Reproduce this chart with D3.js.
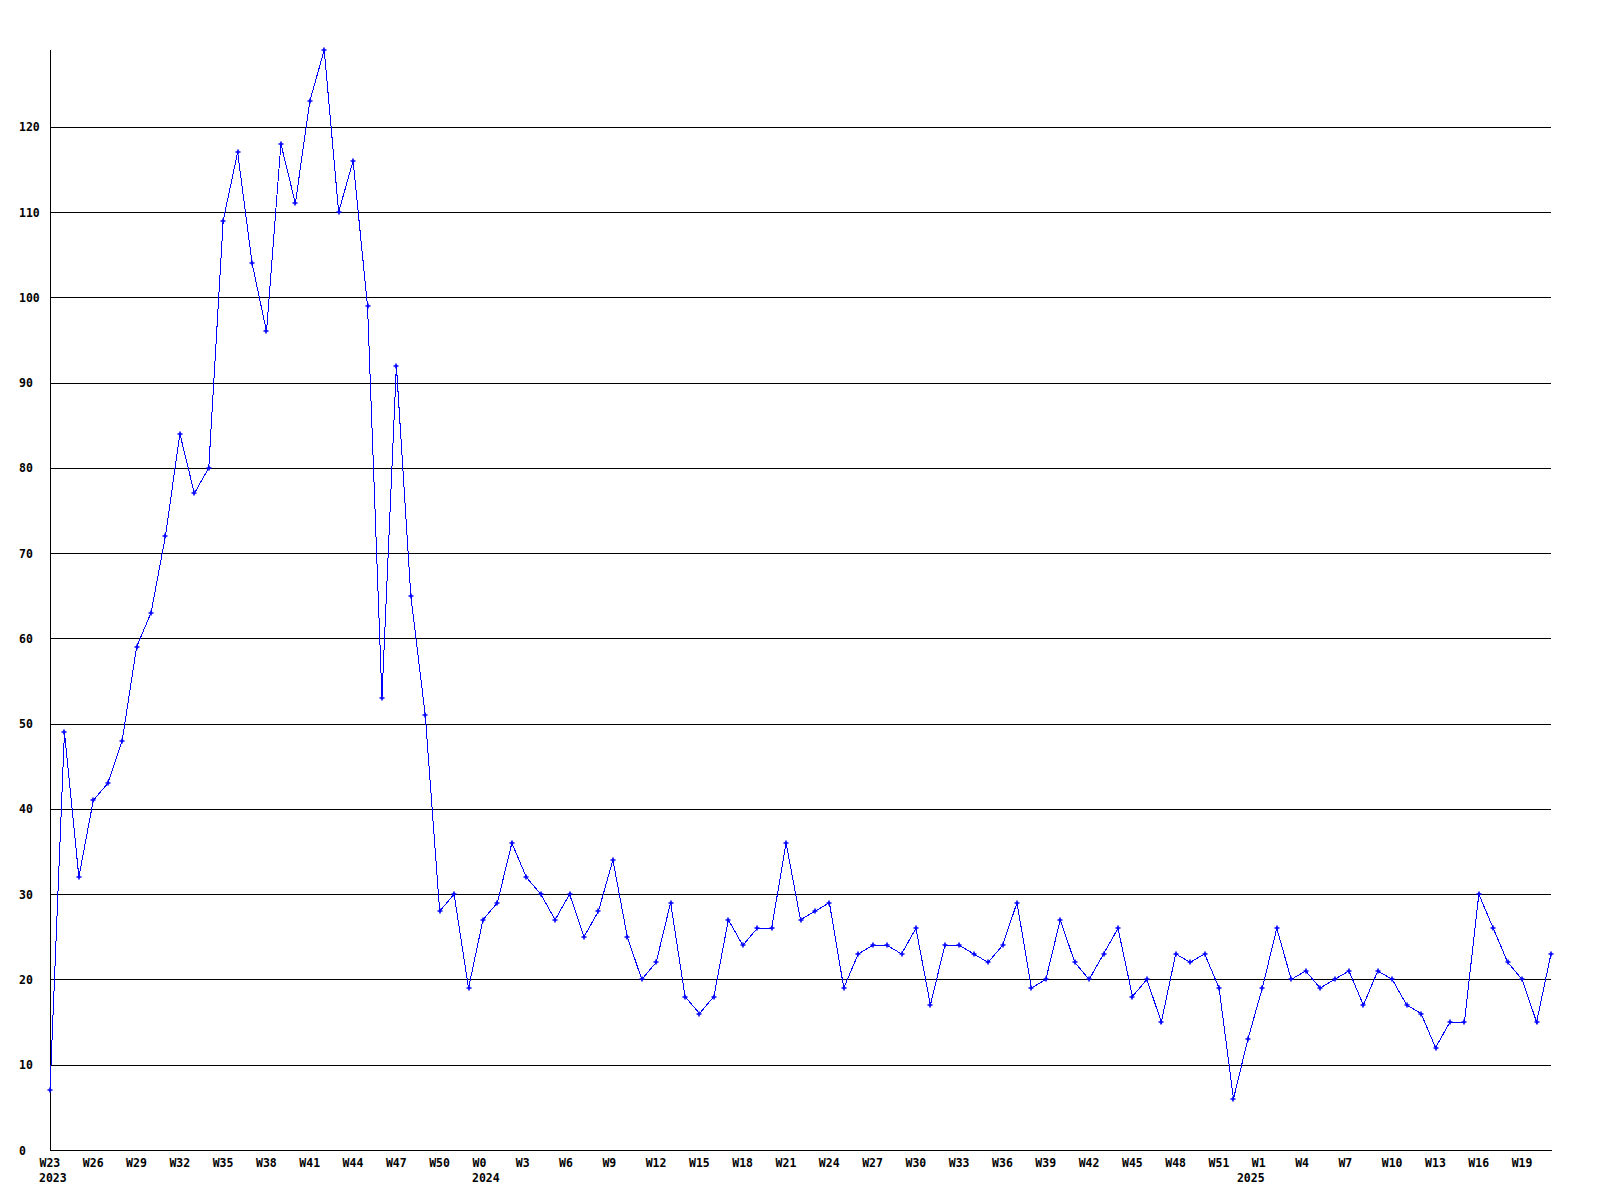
<!DOCTYPE html>
<html>
<head>
<meta charset="utf-8">
<script src="https://cdn.jsdelivr.net/npm/d3@7/dist/d3.min.js"></script>
<style>
  body { margin: 0; background: #ffffff; }
  svg { display: block; }
  text { font-family: "DejaVu Sans Mono", "Liberation Mono", monospace; font-weight: bold; font-size: 11.5px; fill: #000; }
</style>
</head>
<body>
<svg id="chart" width="1600" height="1200"></svg>
<script>
// ---- data ----
const weeks = [
  "2023-W23","2023-W24","2023-W25","2023-W26","2023-W27","2023-W28","2023-W29","2023-W30","2023-W31","2023-W32",
  "2023-W33","2023-W34","2023-W35","2023-W36","2023-W37","2023-W38","2023-W39","2023-W40","2023-W41","2023-W42",
  "2023-W43","2023-W44","2023-W45","2023-W46","2023-W47","2023-W48","2023-W49","2023-W50","2023-W51","2023-W52",
  "2024-W0","2024-W1","2024-W2","2024-W3","2024-W4","2024-W5","2024-W6","2024-W7","2024-W8","2024-W9",
  "2024-W10","2024-W11","2024-W12","2024-W13","2024-W14","2024-W15","2024-W16","2024-W17","2024-W18","2024-W19",
  "2024-W20","2024-W21","2024-W22","2024-W23","2024-W24","2024-W25","2024-W26","2024-W27","2024-W28","2024-W29",
  "2024-W30","2024-W31","2024-W32","2024-W33","2024-W34","2024-W35","2024-W36","2024-W37","2024-W38","2024-W39",
  "2024-W40","2024-W41","2024-W42","2024-W43","2024-W44","2024-W45","2024-W46","2024-W47","2024-W48","2024-W49",
  "2024-W50","2024-W51","2024-W52",
  "2025-W0","2025-W1","2025-W2","2025-W3","2025-W4","2025-W5","2025-W6","2025-W7","2025-W8","2025-W9",
  "2025-W10","2025-W11","2025-W12","2025-W13","2025-W14","2025-W15","2025-W16","2025-W17","2025-W18","2025-W19",
  "2025-W20","2025-W21"
];

const counts = [
  7, 49, 32, 41, 43, 48, 59, 63, 72, 84,
  77, 80, 109, 117, 104, 96, 118, 111, 123, 129,
  110, 116, 99, 53, 92, 65, 51, 28, 30, 19,
  27, 29, 36, 32, 30, 27, 30, 25, 28, 34,
  25, 20, 22, 29, 18, 16, 18, 27, 24, 26,
  26, 36, 27, 28, 29, 19, 23, 24, 24, 23,
  26, 17, 24, 24, 23, 22, 24, 29, 19, 20,
  27, 22, 20, 23, 26, 18, 20, 15, 23, 22,
  23, 19, 6,
  13, 19, 26, 20, 21, 19, 20, 21, 17, 21,
  20, 17, 16, 12, 15, 15, 30, 26, 22, 20,
  15, 23
];

const yTickValues = [0, 10, 20, 30, 40, 50, 60, 70, 80, 90, 100, 110, 120];
const xTickWeeks = weeks.filter((d, i) => i % 3 === 0);
const years = ["2023", "2024", "2025"];

// ---- layout ----
const plotLeft = 50, plotRight = 1551, plotTop = 50, plotBottom = 1150;
const svg = d3.select("#chart");

const x = d3.scalePoint().domain(weeks).range([plotLeft, plotRight]);
const y = d3.scaleLinear().domain([0, d3.max(counts)]).range([plotBottom, plotTop]);

// y axis with gridlines
const yAxis = d3.axisLeft(y)
  .tickValues(yTickValues)
  .tickSize(-(plotRight - plotLeft))
  .tickSizeOuter(0)
  .tickFormat(d3.format("d"));

const gy = svg.append("g")
  .attr("transform", `translate(${plotLeft},0)`)
  .call(yAxis);
gy.select(".domain").remove();
gy.selectAll(".tick line")
  .attr("stroke", "#000").attr("stroke-width", 1)
  .attr("shape-rendering", "crispEdges");
gy.selectAll(".tick text")
  .attr("x", 19 - plotLeft)
  .attr("dy", "0.35em")
  .attr("text-anchor", "start")
  .style("font-size", "11.5px");

// vertical axis line
svg.append("line")
  .attr("x1", plotLeft).attr("x2", plotLeft)
  .attr("y1", y(d3.max(counts))).attr("y2", y(0))
  .attr("stroke", "#000").attr("stroke-width", 1)
  .attr("shape-rendering", "crispEdges");

// x axis
const xAxis = d3.axisBottom(x)
  .tickValues(xTickWeeks)
  .tickSize(0)
  .tickSizeOuter(0)
  .tickFormat(d => d.split("-")[1]);

const gx = svg.append("g")
  .attr("transform", `translate(0,${plotBottom})`)
  .call(xAxis);
gx.select(".domain")
  .attr("stroke", "#000").attr("stroke-width", 1)
  .attr("shape-rendering", "crispEdges");
gx.selectAll(".tick text")
  .attr("x", -11)
  .attr("y", 17)
  .attr("dy", 0)
  .attr("text-anchor", "start")
  .style("font-size", "11.5px");

// year labels at first week of each year
years.forEach(yr => {
  const first = weeks.find(w => w.startsWith(yr));
  svg.append("text")
    .attr("x", x(first) - 11)
    .attr("y", plotBottom + 32)
    .attr("text-anchor", "start")
    .text(yr);
});

// series line
const line = d3.line()
  .x((d, i) => x(weeks[i]))
  .y(d => y(d));

svg.append("path")
  .datum(counts)
  .attr("fill", "none")
  .attr("stroke", "#0000ff")
  .attr("stroke-width", 1)
  .attr("shape-rendering", "crispEdges")
  .attr("d", line);

// markers (small plus)
svg.append("g").selectAll("path.mk")
  .data(counts)
  .join("path")
  .attr("class", "mk")
  .attr("transform", (d, i) => `translate(${Math.round(x(weeks[i]))},${Math.round(y(d))})`)
  .attr("d", "M-2.5,0H2.5M0,-2.5V2.5")
  .attr("stroke", "#0000ff")
  .attr("stroke-width", 1.6)
  .attr("fill", "none");
</script>
</body>
</html>
